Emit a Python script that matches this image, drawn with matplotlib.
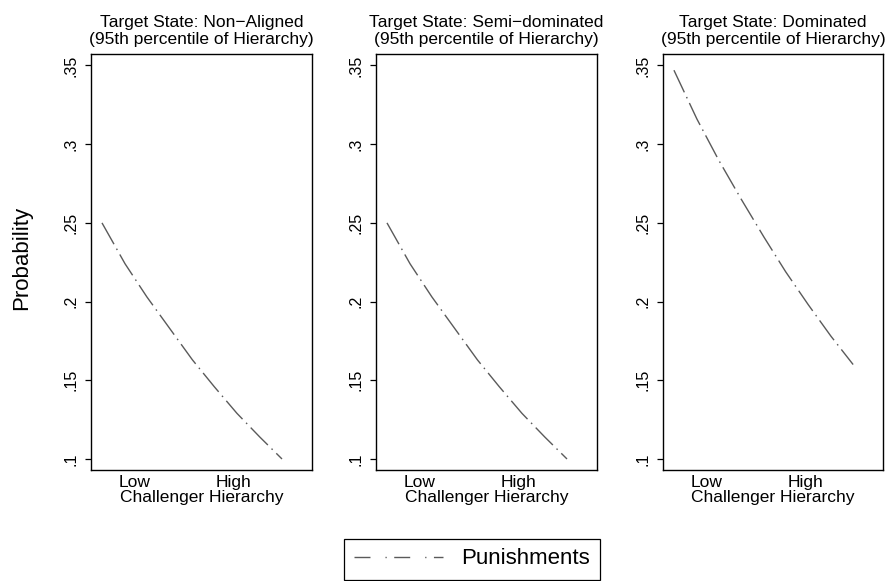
import matplotlib
matplotlib.use("Agg")
import matplotlib.pyplot as plt
from matplotlib.lines import Line2D

plt.rcParams['font.family'] = ['Liberation Sans', 'DejaVu Sans']

# challenger hierarchy (Low = 0, High = 1)
hier = [-0.333, -0.10, 0.12, 0.35, 0.58, 0.80, 1.03, 1.26, 1.485]
xticks = [0, 1]
xticklabels = ['Low', 'High']

# predicted probability of punishments, 95th percentile of target hierarchy
p_nonaligned = [0.250, 0.224, 0.203, 0.183, 0.163, 0.146, 0.129, 0.114, 0.100]
p_semidom = [0.250, 0.224, 0.203, 0.183, 0.163, 0.146, 0.129, 0.114, 0.100]
p_dominated = [0.347, 0.316, 0.290, 0.265, 0.241, 0.219, 0.198, 0.178, 0.160]

titles = ['Target State: Non\u2212Aligned\n(95th percentile of Hierarchy)',
          'Target State: Semi\u2212dominated\n(95th percentile of Hierarchy)',
          'Target State: Dominated\n(95th percentile of Hierarchy)']
yticks = [0.1, 0.15, 0.2, 0.25, 0.3, 0.35]
yticklabels = ['.1', '.15', '.2', '.25', '.3', '.35']

line_color = '#5a5a5a'
W, H = 887, 581
fig = plt.figure(figsize=(W / 100, H / 100), dpi=100)

lefts = [91, 376, 663]
widths = [221, 221, 220]
top, bottom = 54, 470

for i, series in enumerate([p_nonaligned, p_semidom, p_dominated]):
    ax = fig.add_axes([lefts[i] / W, 1 - bottom / H, widths[i] / W, (bottom - top) / H])
    ax.plot(hier, series, color=line_color, linewidth=1.0,
            dashes=(17.6, 3.7, 1.1, 3.7))
    ax.set_xlim(-0.444, 1.788)
    ax.set_ylim(0.0930, 0.3573)
    ax.set_xticks(xticks)
    ax.set_xticklabels(xticklabels)
    ax.set_yticks(yticks)
    ax.set_yticklabels(yticklabels, rotation=90, va='center')
    ax.tick_params(axis='x', length=0, pad=3.5, labelsize=12.5)
    ax.tick_params(axis='y', length=4.3, width=0.9, pad=4.5, labelsize=11.5)
    for s in ax.spines.values():
        s.set_linewidth(1.0)
    ax.set_xlabel('Challenger Hierarchy', fontsize=12.5, labelpad=0)
    ax.set_title(titles[i], fontsize=12.5, pad=7.5, linespacing=1.12)

fig.text(22 / W, 1 - 258 / H, 'Probability', rotation=90, ha='center', va='center',
         fontsize=16)

handle = Line2D([], [], color=line_color, linewidth=1.0, dashes=(11.5, 10.8, 0.9, 5.4))
leg = fig.legend([handle], ['Punishments'], loc='center',
                 bbox_to_anchor=(472 / W, 1 - 559 / H), fontsize=16,
                 handlelength=4.0, handletextpad=0.8, borderpad=0.45,
                 fancybox=False, framealpha=1, edgecolor='black')
leg.get_frame().set_linewidth(0.9)

fig.savefig('out.png', dpi=100)
